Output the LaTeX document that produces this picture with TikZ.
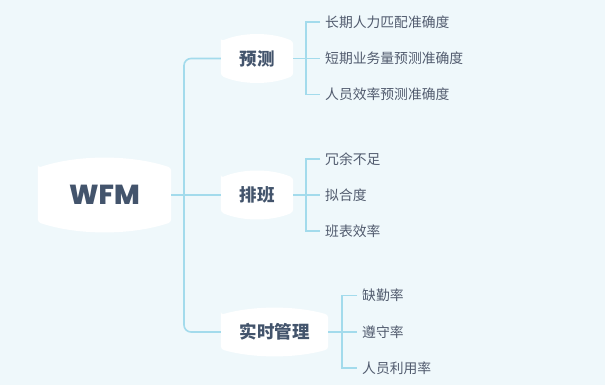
\documentclass[tikz,border=0pt]{standalone}
\usepackage{fontspec}
\usepackage{tikz}
\usetikzlibrary{calc,backgrounds}
\newfontfamily\cjk{Noto Sans CJK SC}
\newfontfamily\latinbold{Poppins ExtraBold}
\definecolor{bgcyan}{HTML}{EFF8FB}
\definecolor{linkblue}{HTML}{A3DBEC}
\definecolor{inkslate}{HTML}{43546C}
\definecolor{leafgray}{HTML}{515B6E}

% white topic shape: straight sides, bowed top and bottom
\newcommand\bubblefill[2]{%
  \fill[white,rounded corners=3pt]
    ($(#1.north west)+(0,#2)$) -- ($(#1.south west)+(0,-#2)$)
    .. controls ($(#1.south west)!0.3!(#1.south east)+(0,#2/3)$) and ($(#1.south west)!0.7!(#1.south east)+(0,#2/3)$) .. ($(#1.south east)+(0,-#2)$)
    -- ($(#1.north east)+(0,#2)$)
    .. controls ($(#1.north west)!0.7!(#1.north east)+(0,-#2/3)$) and ($(#1.north west)!0.3!(#1.north east)+(0,-#2/3)$) .. cycle;}

\begin{document}
\begin{tikzpicture}[x=1pt,y=-1pt,
  topic/.style={inner sep=0pt,align=center,text=inkslate,font=\cjk\bfseries\fontsize{17.5}{20}\selectfont,text height=15.4pt,text depth=2.1pt,minimum height=48pt},
  leaf/.style={anchor=west,inner xsep=5pt,inner ysep=0pt,text=leafgray,font=\cjk\fontsize{13.8}{16}\selectfont,text height=12.1pt,text depth=1.7pt},
  link/.style={draw=linkblue,line width=1.6pt}]

\useasboundingbox (0,0) rectangle (605,385);

\node[topic,minimum width=133pt,minimum height=74pt,font=\latinbold\fontsize{27.5}{30}\selectfont,text height=19.3pt,text depth=0pt] (root) at (104.5,195) {WFM};
\node[topic,minimum width=72pt] (yc) at (257,58.5)  {预测};
\node[topic,minimum width=72pt] (pb) at (257,195)   {排班};
\node[topic,minimum width=107pt] (ss) at (274.5,332) {实时管理};

\node[leaf] (yc1) at (320,22)   {长期人力匹配准确度};
\node[leaf] (yc2) at (320,58.5) {短期业务量预测准确度};
\node[leaf] (yc3) at (320,94.5) {人员效率预测准确度};
\node[leaf] (pb1) at (320,159)  {冗余不足};
\node[leaf] (pb2) at (320,195)  {拟合度};
\node[leaf] (pb3) at (320,231)  {班表效率};
\node[leaf] (ss1) at (357,295.5){缺勤率};
\node[leaf] (ss2) at (357,332)  {遵守率};
\node[leaf] (ss3) at (357,368)  {人员利用率};

\coordinate (jn)  at (184,195);
\coordinate (ycb) at (306,58.5);
\coordinate (pbb) at (306,195);
\coordinate (ssb) at (342,332);

\begin{scope}[on background layer]
  \fill[bgcyan] (0,0) rectangle (605,385);
  \bubblefill{root}{10}
  \bubblefill{yc}{7}
  \bubblefill{pb}{7}
  \bubblefill{ss}{7}
\end{scope}

\draw[link] (root.east) -- (pb.west);
\draw[link,rounded corners=7pt] (yc.west) -| (jn) |- (ss.west);

\draw[link] (yc.east) -- (ycb);
\draw[link] (yc1.west) -| (ycb) |- (yc3.west);
\draw[link] (ycb) -- (yc2.west);
\draw[link] (pb.east) -- (pbb);
\draw[link] (pb1.west) -| (pbb) |- (pb3.west);
\draw[link] (pbb) -- (pb2.west);
\draw[link] (ss.east) -- (ssb);
\draw[link] (ss1.west) -| (ssb) |- (ss3.west);
\draw[link] (ssb) -- (ss2.west);
\end{tikzpicture}
\end{document}
